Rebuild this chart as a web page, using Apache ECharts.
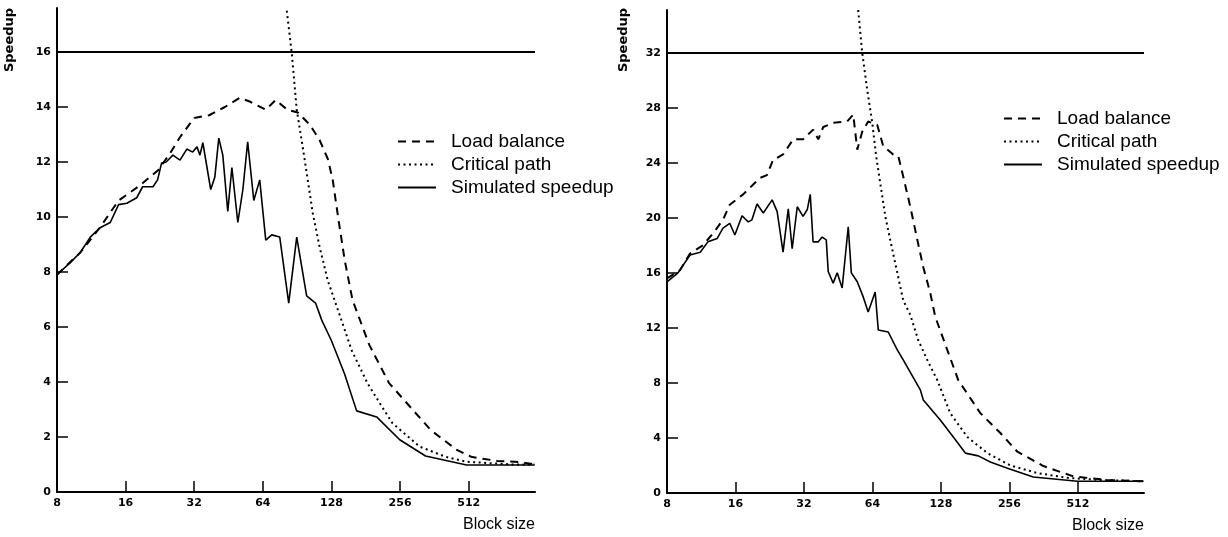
<!DOCTYPE html>
<html>
<head>
<meta charset="utf-8">
<script src="https://cdn.jsdelivr.net/npm/echarts@6/dist/echarts.min.js"></script>
<style>
html,body{margin:0;padding:0;background:#fff;}
#chart{width:1228px;height:537px;}
</style>
</head>
<body>
<div id="chart"></div>
<script>
// ---------- data ----------
const xTickValues = [8, 16, 32, 64, 128, 256, 512];
const leftYTicks = [0, 2, 4, 6, 8, 10, 12, 14, 16];
const rightYTicks = [0, 4, 8, 12, 16, 20, 24, 28, 32];
const leftIdeal = 16;
const rightIdeal = 32;

const leftSimX = [8,9.12,10.1,11.2,12.3,13.7,14.9,16.2,17.9,19.0,21.1,22.1,23.0,24.1,25.8,27.7,29.7,31.5,32.9,33.9,34.9,37.8,39.4,41.0,42.7,44.9,46.8,49.7,52.3,54.9,58.4,62.0,65.9,70.0,75.9,83.1,90.1,99.6,109,116,128,146,165,202,255,331,501,995];
const leftSimY = [7.9,8.33,8.7,9.27,9.6,9.8,10.45,10.5,10.7,11.1,11.1,11.35,11.96,12.0,12.25,12.07,12.47,12.36,12.55,12.25,12.7,11.0,11.45,12.87,12.25,10.2,11.8,9.8,11.0,12.73,10.6,11.35,9.16,9.35,9.27,6.87,9.27,7.13,6.87,6.25,5.5,4.3,2.95,2.73,1.9,1.31,0.98,0.98];

const leftLoadX = [8,10.1,12.3,14.9,18.5,22.2,25.0,27.7,29.7,32.0,37.2,43.6,50.6,56.0,65.9,72.8,82.0,91.1,102.9,113.5,123.5,129.6,137.4,146.2,158.3,187.5,229,283,349,454,530,683,860,995];
const leftLoadY = [7.9,8.7,9.6,10.6,11.15,11.7,12.3,12.9,13.24,13.6,13.7,14.0,14.33,14.2,13.9,14.25,13.9,13.8,13.35,12.8,12.1,11.35,9.9,8.44,6.98,5.35,3.96,3.1,2.25,1.53,1.27,1.13,1.09,1.0];

const leftCritX = [81.5,85.7,90.1,95.7,100.7,105.9,113.6,123.2,139,157,184,208,237,312,409,501,797,995];
const leftCritY = [17.5,15.96,13.9,12.55,11.35,10.15,8.9,7.7,6.44,5.15,3.96,3.24,2.5,1.65,1.27,1.1,1.0,1.0];

const rightSimX = [8,8.94,10.1,11.2,12.1,13.3,14.1,15.1,15.9,17.1,18.2,18.9,19.9,21.2,23.2,24.4,25.9,27.3,28.4,29.9,31.7,33.1,34.1,35.1,37.0,38.5,40.1,40.9,43.0,44.8,47.1,50.1,51.7,54.9,58.3,61.3,65.8,67.9,75.1,82.3,87.4,103.9,107.1,127.2,145.1,163.9,187,211,251,326,510,995];
const rightSimY = [15.35,16.0,17.3,17.5,18.25,18.5,19.25,19.6,18.75,20.15,19.7,19.85,21.0,20.35,21.3,20.45,17.5,20.65,17.75,20.8,20.1,20.6,21.7,18.25,18.25,18.6,18.4,16.1,15.25,16.0,14.9,19.35,16.0,15.35,14.25,13.15,14.6,11.85,11.7,10.4,9.67,7.5,6.76,5.3,4.07,2.9,2.7,2.25,1.8,1.16,0.85,0.85];

const rightLoadX = [8,9.13,10.1,11.5,12.8,14.1,15.1,17.3,19.1,20.5,22.0,23.4,25.9,28.7,31.7,35.1,37.0,38.9,43.0,49.6,52.7,54.9,57.7,61.3,67.2,71.4,79.0,83.1,87.4,93.9,100.8,107.1,114.9,120.9,133.8,152.6,190.9,233.6,277.6,361,490,691,995];
const rightLoadY = [15.6,16.2,17.4,18.0,18.9,19.85,20.95,21.7,22.4,22.9,23.1,24.2,24.6,25.7,25.7,26.4,25.7,26.6,26.9,27.0,27.5,24.95,26.25,27.0,26.75,25.2,24.6,24.5,23.0,20.8,18.4,16.4,14.55,12.8,10.8,8.2,5.8,4.36,3.0,1.96,1.2,0.95,0.85];

const rightCritX = [55.4,57.7,60.7,63.9,66.5,69.3,72.9,76.6,82.3,87.4,93.9,101.8,112,123.4,140.7,167.3,204.8,258.7,340,461,644,995];
const rightCritY = [35.1,32,29.3,26.9,24.45,22.5,20.1,18.4,16.0,14.0,12.95,11.1,9.6,8.2,5.8,4.07,2.9,2.0,1.45,1.1,0.95,0.85];

const seriesNames = ['Load balance', 'Critical path', 'Simulated speedup'];

// ---------- chart ----------
const FONT = '"Liberation Sans", Arial, Helvetica, sans-serif';
const TICKFONT = '"DejaVu Sans", "Liberation Sans", sans-serif';
const zip = (xs, ys) => xs.map((x, i) => [x, ys[i]]);

function xAxis(i) {
  return {
    type: 'log', logBase: 2, gridIndex: i, min: 8, max: 1000,
    axisLine: { lineStyle: { color: '#000', width: 2 } },
    axisTick: { inside: true, length: 11, customValues: xTickValues, lineStyle: { color: '#000', width: 1.5 } },
    axisLabel: { customValues: xTickValues, color: '#000', fontWeight: 'bold', fontSize: 11, margin: 6, fontFamily: TICKFONT },
    splitLine: { show: false },
    minorTick: { show: false },
    name: 'Block size', nameLocation: 'end', nameGap: 0,
    nameTextStyle: { align: 'right', verticalAlign: 'top', padding: [25, 0, 0, 0], fontSize: 16, color: '#000', fontFamily: FONT }
  };
}
function yAxis(i, max, ticks) {
  return {
    type: 'value', gridIndex: i, min: 0, max: max,
    axisLine: { show: true, lineStyle: { color: '#000', width: 2 } },
    axisTick: { show: true, inside: true, length: 11, customValues: ticks, lineStyle: { color: '#000', width: 1.5 } },
    axisLabel: { customValues: ticks, color: '#000', fontWeight: 'bold', fontSize: 11, margin: 6, fontFamily: TICKFONT },
    splitLine: { show: false }
  };
}
function lineSeries(name, idx, data, type, width) {
  return {
    name: name, type: 'line', xAxisIndex: idx, yAxisIndex: idx, data: data,
    symbol: 'none', showSymbol: false, smooth: false,
    lineStyle: { color: '#000', width: width, type: type },
    itemStyle: { color: '#000' }
  };
}
function idealLine(value) {
  return {
    silent: true, symbol: 'none', label: { show: false },
    lineStyle: { color: '#000', type: 'solid', width: 2 },
    data: [{ yAxis: value }]
  };
}
function legend(left, top) {
  return {
    orient: 'vertical', left: left, top: top, padding: 0,
    data: seriesNames,
    itemWidth: 38, itemHeight: 12, itemGap: 4,
    selectedMode: false,
    itemStyle: { opacity: 0 },
    textStyle: { fontSize: 19, color: '#000', fontFamily: FONT, padding: [0, 0, 0, 10] }
  };
}

const dashed = [8, 6];
const dotted = [2, 3.5];

const sLeftSim = lineSeries(seriesNames[2], 0, zip(leftSimX, leftSimY), 'solid', 1.6);
sLeftSim.markLine = idealLine(leftIdeal);
const sRightSim = lineSeries(seriesNames[2], 1, zip(rightSimX, rightSimY), 'solid', 1.6);
sRightSim.markLine = idealLine(rightIdeal);

const option = {
  animation: false,
  backgroundColor: '#fff',
  grid: [
    { left: 57, top: 8, width: 478, height: 484 },
    { left: 667, top: 10, width: 477, height: 483 }
  ],
  xAxis: [xAxis(0), xAxis(1)],
  yAxis: [yAxis(0, 17.6, leftYTicks), yAxis(1, 35.1, rightYTicks)],
  legend: [legend(397, 132), legend(1003, 109)],
  graphic: [
    { type: 'text', x: 10, y: 40, rotation: Math.PI / 2,
      style: { text: 'Speedup', font: 'bold 13px ' + TICKFONT, fill: '#000', align: 'center', verticalAlign: 'middle' } },
    { type: 'text', x: 624, y: 40, rotation: Math.PI / 2,
      style: { text: 'Speedup', font: 'bold 13px ' + TICKFONT, fill: '#000', align: 'center', verticalAlign: 'middle' } }
  ],
  series: [
    lineSeries(seriesNames[0], 0, zip(leftLoadX, leftLoadY), dashed, 2),
    lineSeries(seriesNames[1], 0, zip(leftCritX, leftCritY), dotted, 2),
    sLeftSim,
    lineSeries(seriesNames[0], 1, zip(rightLoadX, rightLoadY), dashed, 2),
    lineSeries(seriesNames[1], 1, zip(rightCritX, rightCritY), dotted, 2),
    sRightSim
  ]
};

const chart = echarts.init(document.getElementById('chart'), null, { renderer: 'canvas' });
chart.setOption(option);
</script>
</body>
</html>
